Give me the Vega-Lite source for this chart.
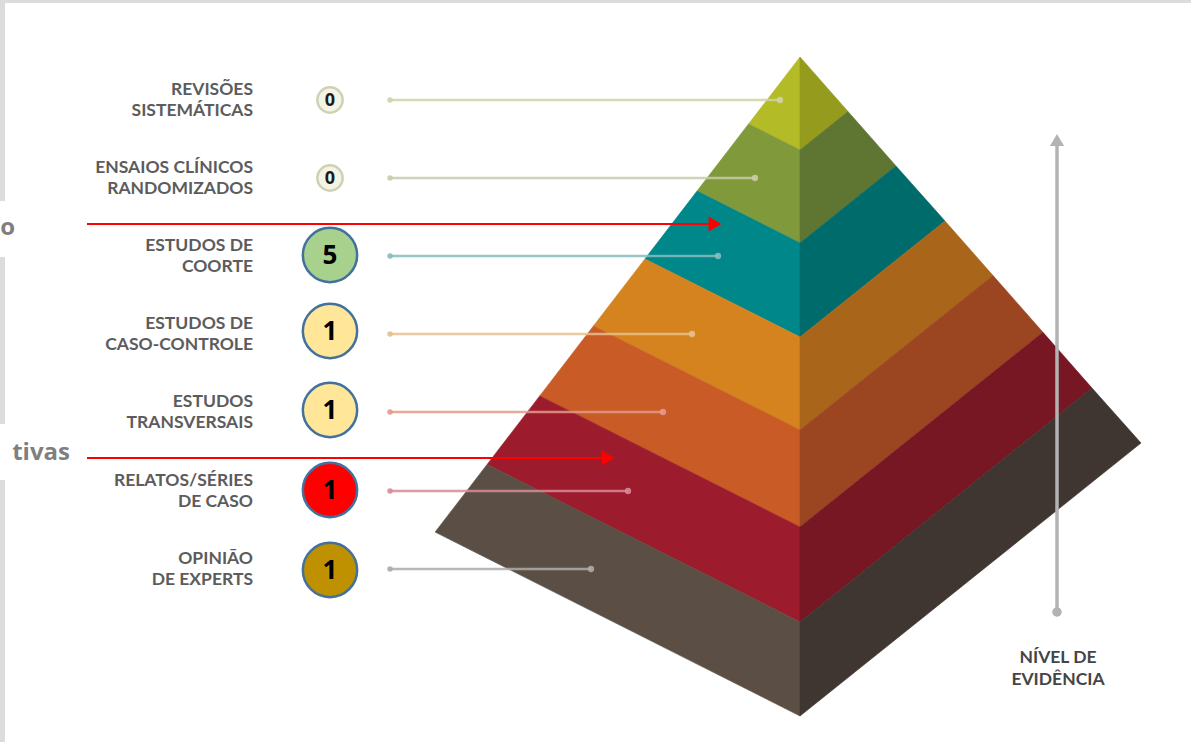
{
  "$schema": "https://vega.github.io/schema/vega-lite/v6.json",
  "width": 1191,
  "height": 742,
  "autosize": {"type": "fit", "contains": "padding"},
  "padding": 0,
  "background": "#ffffff",
  "config": {"view": {"stroke": null}},
  "datasets": {
    "frame": [
      {"x1": 0, "x2": 5, "y1": 0, "y2": 201, "c": "#dcdcdc"},
      {"x1": 0, "x2": 5, "y1": 257, "y2": 424, "c": "#dcdcdc"},
      {"x1": 0, "x2": 5, "y1": 480, "y2": 742, "c": "#dcdcdc"},
      {"x1": 0, "x2": 1191, "y1": 0, "y2": 3, "c": "#dcdcdc"}
    ],
    "faces": [
      {"p": "L1", "i": 0, "x": 800, "y": 57, "c": "#b3bb26"},
      {"p": "L1", "i": 1, "x": 800, "y": 150, "c": "#b3bb26"},
      {"p": "L1", "i": 2, "x": 748.5, "y": 124, "c": "#b3bb26"},
      {"p": "L2", "i": 0, "x": 748.5, "y": 124, "c": "#80993b"},
      {"p": "L2", "i": 1, "x": 800, "y": 150, "c": "#80993b"},
      {"p": "L2", "i": 2, "x": 800, "y": 243, "c": "#80993b"},
      {"p": "L2", "i": 3, "x": 697, "y": 191.1, "c": "#80993b"},
      {"p": "L3", "i": 0, "x": 697, "y": 191.1, "c": "#00878a"},
      {"p": "L3", "i": 1, "x": 800, "y": 243, "c": "#00878a"},
      {"p": "L3", "i": 2, "x": 800, "y": 337, "c": "#00878a"},
      {"p": "L3", "i": 3, "x": 644.9, "y": 258.9, "c": "#00878a"},
      {"p": "L4", "i": 0, "x": 644.9, "y": 258.9, "c": "#d5831f"},
      {"p": "L4", "i": 1, "x": 800, "y": 337, "c": "#d5831f"},
      {"p": "L4", "i": 2, "x": 800, "y": 430, "c": "#d5831f"},
      {"p": "L4", "i": 3, "x": 593.4, "y": 326, "c": "#d5831f"},
      {"p": "L5", "i": 0, "x": 593.4, "y": 326, "c": "#c95b26"},
      {"p": "L5", "i": 1, "x": 800, "y": 430, "c": "#c95b26"},
      {"p": "L5", "i": 2, "x": 800, "y": 527, "c": "#c95b26"},
      {"p": "L5", "i": 3, "x": 539.7, "y": 395.9, "c": "#c95b26"},
      {"p": "L6", "i": 0, "x": 539.7, "y": 395.9, "c": "#9c1c2d"},
      {"p": "L6", "i": 1, "x": 800, "y": 527, "c": "#9c1c2d"},
      {"p": "L6", "i": 2, "x": 800, "y": 622, "c": "#9c1c2d"},
      {"p": "L6", "i": 3, "x": 487.1, "y": 464.4, "c": "#9c1c2d"},
      {"p": "L7", "i": 0, "x": 487.1, "y": 464.4, "c": "#5b4f45"},
      {"p": "L7", "i": 1, "x": 800, "y": 622, "c": "#5b4f45"},
      {"p": "L7", "i": 2, "x": 800, "y": 716, "c": "#5b4f45"},
      {"p": "L7", "i": 3, "x": 435.1, "y": 532.1, "c": "#5b4f45"},
      {"p": "R1", "i": 0, "x": 800, "y": 57, "c": "#959b1d"},
      {"p": "R1", "i": 1, "x": 848, "y": 111.5, "c": "#959b1d"},
      {"p": "R1", "i": 2, "x": 800, "y": 150, "c": "#959b1d"},
      {"p": "R2", "i": 0, "x": 800, "y": 150, "c": "#5f7532"},
      {"p": "R2", "i": 1, "x": 848, "y": 111.5, "c": "#5f7532"},
      {"p": "R2", "i": 2, "x": 896, "y": 166, "c": "#5f7532"},
      {"p": "R2", "i": 3, "x": 800, "y": 243, "c": "#5f7532"},
      {"p": "R3", "i": 0, "x": 800, "y": 243, "c": "#006b6b"},
      {"p": "R3", "i": 1, "x": 896, "y": 166, "c": "#006b6b"},
      {"p": "R3", "i": 2, "x": 945, "y": 221, "c": "#006b6b"},
      {"p": "R3", "i": 3, "x": 800, "y": 337, "c": "#006b6b"},
      {"p": "R4", "i": 0, "x": 800, "y": 337, "c": "#a9661b"},
      {"p": "R4", "i": 1, "x": 945, "y": 221, "c": "#a9661b"},
      {"p": "R4", "i": 2, "x": 993, "y": 275.5, "c": "#a9661b"},
      {"p": "R4", "i": 3, "x": 800, "y": 430, "c": "#a9661b"},
      {"p": "R5", "i": 0, "x": 800, "y": 430, "c": "#9b4521"},
      {"p": "R5", "i": 1, "x": 993, "y": 275.5, "c": "#9b4521"},
      {"p": "R5", "i": 2, "x": 1043, "y": 332.3, "c": "#9b4521"},
      {"p": "R5", "i": 3, "x": 800, "y": 527, "c": "#9b4521"},
      {"p": "R6", "i": 0, "x": 800, "y": 527, "c": "#771723"},
      {"p": "R6", "i": 1, "x": 1043, "y": 332.3, "c": "#771723"},
      {"p": "R6", "i": 2, "x": 1092, "y": 388, "c": "#771723"},
      {"p": "R6", "i": 3, "x": 800, "y": 622, "c": "#771723"},
      {"p": "R7", "i": 0, "x": 800, "y": 622, "c": "#3f3631"},
      {"p": "R7", "i": 1, "x": 1092, "y": 388, "c": "#3f3631"},
      {"p": "R7", "i": 2, "x": 1141, "y": 443, "c": "#3f3631"},
      {"p": "R7", "i": 3, "x": 800, "y": 716, "c": "#3f3631"}
    ],
    "leaders": [
      {"y": 100, "x1": 390, "x2": 780, "c": "#cfd4a6"},
      {"y": 178, "x1": 390, "x2": 755, "c": "#c6cca8"},
      {"y": 256, "x1": 390, "x2": 718, "c": "#86bcbc"},
      {"y": 334, "x1": 390, "x2": 692, "c": "#e6bf8e"},
      {"y": 412, "x1": 390, "x2": 663, "c": "#e49a8a"},
      {"y": 491, "x1": 390, "x2": 628, "c": "#d98a98"},
      {"y": 569, "x1": 390, "x2": 591, "c": "#ababab"}
    ],
    "labels": [
      {"y": 89.5, "t": "REVISÕES"},
      {"y": 110.5, "t": "SISTEMÁTICAS"},
      {"y": 167.5, "t": "ENSAIOS CLÍNICOS"},
      {"y": 188.5, "t": "RANDOMIZADOS"},
      {"y": 245.5, "t": "ESTUDOS DE"},
      {"y": 266.5, "t": "COORTE"},
      {"y": 323.5, "t": "ESTUDOS DE"},
      {"y": 344.5, "t": "CASO-CONTROLE"},
      {"y": 401.5, "t": "ESTUDOS"},
      {"y": 422.5, "t": "TRANSVERSAIS"},
      {"y": 480.5, "t": "RELATOS/SÉRIES"},
      {"y": 501.5, "t": "DE CASO"},
      {"y": 558.5, "t": "OPINIÃO"},
      {"y": 579.5, "t": "DE EXPERTS"}
    ],
    "small": [
      {"x": 330, "y": 100, "n": "0"},
      {"x": 330, "y": 178, "n": "0"}
    ],
    "big": [
      {"x": 330, "y": 255, "n": "5", "c": "#a9d18e"},
      {"x": 330, "y": 331, "n": "1", "c": "#ffe699"},
      {"x": 330, "y": 410, "n": "1", "c": "#ffe699"},
      {"x": 330, "y": 490, "n": "1", "c": "#ff0000"},
      {"x": 330, "y": 570, "n": "1", "c": "#bf9000"}
    ],
    "redlines": [
      {"x1": 87, "x2": 712, "y": 224, "tx": 715},
      {"x1": 87, "x2": 605, "y": 458, "tx": 608}
    ],
    "evid": [{"x": 1057, "y1": 144, "y2": 612, "ty": 140}],
    "evidtext": [
      {"x": 1058, "y": 658, "t": "NÍVEL DE"},
      {"x": 1058, "y": 680, "t": "EVIDÊNCIA"}
    ],
    "cut": [
      {"x": 15, "y": 228, "t": "o"},
      {"x": 70, "y": 453, "t": "tivas"}
    ]
  },
  "layer": [
    {
      "data": {"name": "frame"},
      "mark": {"type": "rect"},
      "encoding": {
        "x": {"field": "x1", "type": "quantitative", "scale": {"domain": [0, 1191], "nice": false, "zero": false}, "axis": null},
        "x2": {"field": "x2"},
        "y": {"field": "y1", "type": "quantitative", "scale": {"domain": [0, 742], "nice": false, "zero": false, "reverse": true}, "axis": null},
        "y2": {"field": "y2"},
        "fill": {"field": "c", "type": "nominal", "scale": null}
      }
    },
    {
      "data": {"name": "faces"},
      "mark": {"type": "line", "strokeWidth": 0.6, "interpolate": "linear-closed"},
      "encoding": {
        "x": {"field": "x", "type": "quantitative", "scale": {"domain": [0, 1191], "nice": false, "zero": false}, "axis": null},
        "y": {"field": "y", "type": "quantitative", "scale": {"domain": [0, 742], "nice": false, "zero": false, "reverse": true}, "axis": null},
        "detail": {"field": "p", "type": "nominal"},
        "order": {"field": "i", "type": "quantitative"},
        "fill": {"field": "c", "type": "nominal", "scale": null},
        "stroke": {"field": "c", "type": "nominal", "scale": null}
      }
    },
    {
      "data": {"name": "leaders"},
      "mark": {"type": "rule", "strokeWidth": 2.5, "opacity": 0.85},
      "encoding": {
        "x": {"field": "x1", "type": "quantitative", "scale": {"domain": [0, 1191], "nice": false, "zero": false}, "axis": null},
        "x2": {"field": "x2"},
        "y": {"field": "y", "type": "quantitative", "scale": {"domain": [0, 742], "nice": false, "zero": false, "reverse": true}, "axis": null},
        "color": {"field": "c", "type": "nominal", "scale": null}
      }
    },
    {
      "data": {"name": "leaders"},
      "mark": {"type": "point", "shape": "circle", "filled": true, "size": 30, "opacity": 0.9},
      "encoding": {
        "x": {"field": "x1", "type": "quantitative", "scale": {"domain": [0, 1191], "nice": false, "zero": false}, "axis": null},
        "y": {"field": "y", "type": "quantitative", "scale": {"domain": [0, 742], "nice": false, "zero": false, "reverse": true}, "axis": null},
        "color": {"field": "c", "type": "nominal", "scale": null}
      }
    },
    {
      "data": {"name": "leaders"},
      "mark": {"type": "point", "shape": "circle", "filled": true, "size": 40, "opacity": 0.9},
      "encoding": {
        "x": {"field": "x2", "type": "quantitative", "scale": {"domain": [0, 1191], "nice": false, "zero": false}, "axis": null},
        "y": {"field": "y", "type": "quantitative", "scale": {"domain": [0, 742], "nice": false, "zero": false, "reverse": true}, "axis": null},
        "color": {"field": "c", "type": "nominal", "scale": null}
      }
    },
    {
      "data": {"name": "labels"},
      "mark": {"type": "text", "align": "right", "baseline": "middle", "font": "Lato", "fontSize": 17.5, "fontWeight": "bold", "color": "#5c5c5c"},
      "encoding": {
        "x": {"datum": 253, "type": "quantitative", "scale": {"domain": [0, 1191], "nice": false, "zero": false}, "axis": null},
        "y": {"field": "y", "type": "quantitative", "scale": {"domain": [0, 742], "nice": false, "zero": false, "reverse": true}, "axis": null},
        "text": {"field": "t"}
      }
    },
    {
      "data": {"name": "small"},
      "mark": {"type": "point", "shape": "circle", "filled": true, "size": 640, "fill": "#f4f4e6", "stroke": "#cfd1b4", "strokeWidth": 2.5, "opacity": 1},
      "encoding": {
        "x": {"field": "x", "type": "quantitative", "scale": {"domain": [0, 1191], "nice": false, "zero": false}, "axis": null},
        "y": {"field": "y", "type": "quantitative", "scale": {"domain": [0, 742], "nice": false, "zero": false, "reverse": true}, "axis": null}
      }
    },
    {
      "data": {"name": "small"},
      "mark": {"type": "text", "align": "center", "baseline": "middle", "font": "Open Sans", "fontSize": 18, "fontWeight": "bold", "color": "#1a1a1a", "dy": 1},
      "encoding": {
        "x": {"field": "x", "type": "quantitative", "scale": {"domain": [0, 1191], "nice": false, "zero": false}, "axis": null},
        "y": {"field": "y", "type": "quantitative", "scale": {"domain": [0, 742], "nice": false, "zero": false, "reverse": true}, "axis": null},
        "text": {"field": "n"}
      }
    },
    {
      "data": {"name": "big"},
      "mark": {"type": "point", "shape": "circle", "filled": true, "size": 2950, "stroke": "#41719c", "strokeWidth": 2.5, "opacity": 1},
      "encoding": {
        "x": {"field": "x", "type": "quantitative", "scale": {"domain": [0, 1191], "nice": false, "zero": false}, "axis": null},
        "y": {"field": "y", "type": "quantitative", "scale": {"domain": [0, 742], "nice": false, "zero": false, "reverse": true}, "axis": null},
        "fill": {"field": "c", "type": "nominal", "scale": null}
      }
    },
    {
      "data": {"name": "big"},
      "mark": {"type": "text", "align": "center", "baseline": "middle", "font": "Open Sans", "fontSize": 26, "fontWeight": "bold", "color": "#000000", "dy": 1},
      "encoding": {
        "x": {"field": "x", "type": "quantitative", "scale": {"domain": [0, 1191], "nice": false, "zero": false}, "axis": null},
        "y": {"field": "y", "type": "quantitative", "scale": {"domain": [0, 742], "nice": false, "zero": false, "reverse": true}, "axis": null},
        "text": {"field": "n"}
      }
    },
    {
      "data": {"name": "evid"},
      "mark": {"type": "rule", "strokeWidth": 3.5, "color": "#b3b3b3"},
      "encoding": {
        "x": {"field": "x", "type": "quantitative", "scale": {"domain": [0, 1191], "nice": false, "zero": false}, "axis": null},
        "y": {"field": "y1", "type": "quantitative", "scale": {"domain": [0, 742], "nice": false, "zero": false, "reverse": true}, "axis": null},
        "y2": {"field": "y2"}
      }
    },
    {
      "data": {"name": "evid"},
      "mark": {"type": "point", "shape": "triangle-up", "filled": true, "size": 200, "color": "#b3b3b3", "opacity": 1},
      "encoding": {
        "x": {"field": "x", "type": "quantitative", "scale": {"domain": [0, 1191], "nice": false, "zero": false}, "axis": null},
        "y": {"field": "ty", "type": "quantitative", "scale": {"domain": [0, 742], "nice": false, "zero": false, "reverse": true}, "axis": null}
      }
    },
    {
      "data": {"name": "evid"},
      "mark": {"type": "point", "shape": "circle", "filled": true, "size": 90, "color": "#b3b3b3", "opacity": 1},
      "encoding": {
        "x": {"field": "x", "type": "quantitative", "scale": {"domain": [0, 1191], "nice": false, "zero": false}, "axis": null},
        "y": {"field": "y2", "type": "quantitative", "scale": {"domain": [0, 742], "nice": false, "zero": false, "reverse": true}, "axis": null}
      }
    },
    {
      "data": {"name": "evidtext"},
      "mark": {"type": "text", "align": "center", "baseline": "middle", "font": "Lato", "fontSize": 17.5, "fontWeight": "bold", "color": "#454545"},
      "encoding": {
        "x": {"field": "x", "type": "quantitative", "scale": {"domain": [0, 1191], "nice": false, "zero": false}, "axis": null},
        "y": {"field": "y", "type": "quantitative", "scale": {"domain": [0, 742], "nice": false, "zero": false, "reverse": true}, "axis": null},
        "text": {"field": "t"}
      }
    },
    {
      "data": {"name": "redlines"},
      "mark": {"type": "rule", "strokeWidth": 2, "color": "#ff0000"},
      "encoding": {
        "x": {"field": "x1", "type": "quantitative", "scale": {"domain": [0, 1191], "nice": false, "zero": false}, "axis": null},
        "x2": {"field": "x2"},
        "y": {"field": "y", "type": "quantitative", "scale": {"domain": [0, 742], "nice": false, "zero": false, "reverse": true}, "axis": null}
      }
    },
    {
      "data": {"name": "redlines"},
      "mark": {"type": "point", "shape": "triangle-right", "filled": true, "size": 220, "color": "#ff0000", "opacity": 1},
      "encoding": {
        "x": {"field": "tx", "type": "quantitative", "scale": {"domain": [0, 1191], "nice": false, "zero": false}, "axis": null},
        "y": {"field": "y", "type": "quantitative", "scale": {"domain": [0, 742], "nice": false, "zero": false, "reverse": true}, "axis": null}
      }
    },
    {
      "data": {"name": "cut"},
      "mark": {"type": "text", "align": "right", "baseline": "middle", "font": "Open Sans", "fontSize": 24, "fontWeight": "bold", "color": "#7f7f7f"},
      "encoding": {
        "x": {"field": "x", "type": "quantitative", "scale": {"domain": [0, 1191], "nice": false, "zero": false}, "axis": null},
        "y": {"field": "y", "type": "quantitative", "scale": {"domain": [0, 742], "nice": false, "zero": false, "reverse": true}, "axis": null},
        "text": {"field": "t"}
      }
    }
  ]
}
